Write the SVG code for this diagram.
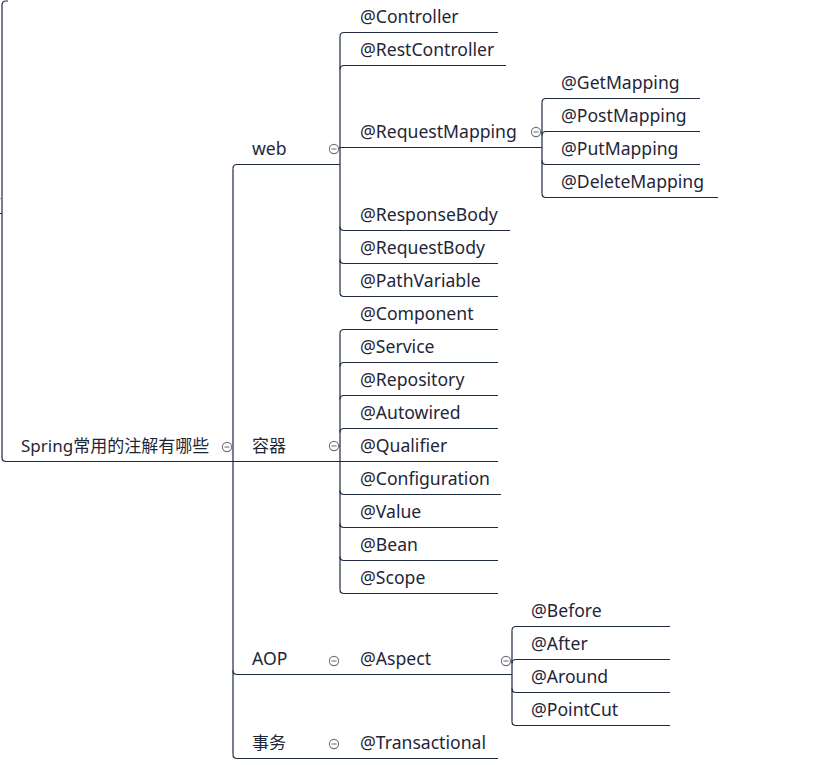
<svg xmlns="http://www.w3.org/2000/svg" width="817" height="765" viewBox="0 0 817 765">
<style>
.t{font-family:"Noto Sans","Noto Sans CJK SC",sans-serif;font-size:17.6px;fill:#1f2638}
.z{font-size:17px}
.u{stroke:#1f2a40;stroke-width:1.2;fill:none}
.c{fill:none;stroke:#1f2a40;stroke-width:1.2}
.b circle{fill:#fff;stroke:#6f7480;stroke-width:1.1}
.b line{stroke:#6f7480;stroke-width:1.1}
</style>
<defs>
<g id="btn" class="b"><circle cx="0" cy="0" r="4.6"/><line x1="-2.5" y1="0" x2="2.5" y2="0"/></g>
</defs>
<rect width="817" height="765" fill="#fff"/>
<g id="connectors">
<path class="c" d="M8,1 H6 Q2,1 2,5 V457.5 Q2,461.5 6,461.5"/>
<path class="c" d="M0,213.5 H2"/>
<path class="c" d="M0,198.5 H1.5" style="stroke:#9a9ea8"/>
<!-- root bracket -->
<path class="c" d="M233,168.5 V754.5"/>
<path class="c" d="M233,168.5 Q233,164.5 237,164.5"/>
<path class="c" d="M233,670.5 Q233,674.5 237,674.5"/>
<path class="c" d="M233,754.5 Q233,758.5 237,758.5"/>
<!-- web bracket -->
<path class="c" d="M338.5,148 H340 M340,36.5 V292.5"/>
<path class="c" d="M340,36.5 Q340,32.5 344,32.5"/>
<path class="c" d="M340,69.5 Q340,65.5 344,65.5"/>
<path class="c" d="M340,226.5 Q340,230.5 344,230.5"/>
<path class="c" d="M340,259.5 Q340,263.5 344,263.5"/>
<path class="c" d="M340,292.5 Q340,296.5 344,296.5"/>
<!-- RequestMapping bracket -->
<path class="c" d="M540.5,132 H542 M542,102.5 V193.5"/>
<path class="c" d="M542,102.5 Q542,98.5 546,98.5"/>
<path class="c" d="M542,135.5 Q542,131.5 546,131.5"/>
<path class="c" d="M542,160.5 Q542,164.5 546,164.5"/>
<path class="c" d="M542,193.5 Q542,197.5 546,197.5"/>
<!-- 容器 bracket -->
<path class="c" d="M338.5,446 H340 M340,333.5 V589.5"/>
<path class="c" d="M340,333.5 Q340,329.5 344,329.5"/>
<path class="c" d="M340,366.5 Q340,362.5 344,362.5"/>
<path class="c" d="M340,399.5 Q340,395.5 344,395.5"/>
<path class="c" d="M340,432.5 Q340,428.5 344,428.5"/>
<path class="c" d="M340,490.5 Q340,494.5 344,494.5"/>
<path class="c" d="M340,523.5 Q340,527.5 344,527.5"/>
<path class="c" d="M340,556.5 Q340,560.5 344,560.5"/>
<path class="c" d="M340,589.5 Q340,593.5 344,593.5"/>
<!-- Aspect bracket -->
<path class="c" d="M510.5,661 H512 M512,630.5 V721.5"/>
<path class="c" d="M512,630.5 Q512,626.5 516,626.5"/>
<path class="c" d="M512,663.5 Q512,659.5 516,659.5"/>
<path class="c" d="M512,688.5 Q512,692.5 516,692.5"/>
<path class="c" d="M512,721.5 Q512,725.5 516,725.5"/>
</g>
<g id="root"><line class="u" x1="6" y1="461.5" x2="233" y2="461.5"/><text class="t z" x="21" y="452">Spring常用的注解有哪些</text><use href="#btn" x="227" y="447"/></g>
<g id="web"><line class="u" x1="237" y1="164.5" x2="340" y2="164.5"/><text class="t" x="252" y="155">web</text><use href="#btn" x="334" y="149"/></g>
<g id="rongqi"><line class="u" x1="233" y1="461.5" x2="340" y2="461.5"/><text class="t z" x="252" y="452">容器</text><use href="#btn" x="334" y="446"/></g>
<g id="aop"><line class="u" x1="237" y1="674.5" x2="340" y2="674.5"/><text class="t" x="252" y="665">AOP</text><use href="#btn" x="334" y="661"/></g>
<g id="shiwu"><line class="u" x1="237" y1="758.5" x2="340" y2="758.5"/><text class="t z" x="252" y="749">事务</text><use href="#btn" x="334" y="744"/></g>
<g id="controller"><line class="u" x1="344" y1="32.5" x2="498" y2="32.5"/><text class="t" x="360" y="23">@Controller</text></g>
<g id="restcontroller"><line class="u" x1="344" y1="65.5" x2="506" y2="65.5"/><text class="t" x="360" y="56">@RestController</text></g>
<g id="requestmapping"><line class="u" x1="340" y1="147.5" x2="542" y2="147.5"/><text class="t" x="360" y="138">@RequestMapping</text><use href="#btn" x="536" y="132"/></g>
<g id="getmapping"><line class="u" x1="546" y1="98.5" x2="700" y2="98.5"/><text class="t" x="561" y="89">@GetMapping</text></g>
<g id="postmapping"><line class="u" x1="546" y1="131.5" x2="700" y2="131.5"/><text class="t" x="561" y="122">@PostMapping</text></g>
<g id="putmapping"><line class="u" x1="546" y1="164.5" x2="700" y2="164.5"/><text class="t" x="561" y="155">@PutMapping</text></g>
<g id="deletemapping"><line class="u" x1="546" y1="197.5" x2="718" y2="197.5"/><text class="t" x="561" y="188">@DeleteMapping</text></g>
<g id="responsebody"><line class="u" x1="344" y1="230.5" x2="510" y2="230.5"/><text class="t" x="360" y="221">@ResponseBody</text></g>
<g id="requestbody"><line class="u" x1="344" y1="263.5" x2="498" y2="263.5"/><text class="t" x="360" y="254">@RequestBody</text></g>
<g id="pathvariable"><line class="u" x1="344" y1="296.5" x2="498" y2="296.5"/><text class="t" x="360" y="287">@PathVariable</text></g>
<g id="component"><line class="u" x1="344" y1="329.5" x2="498" y2="329.5"/><text class="t" x="360" y="320">@Component</text></g>
<g id="service"><line class="u" x1="344" y1="362.5" x2="498" y2="362.5"/><text class="t" x="360" y="353">@Service</text></g>
<g id="repository"><line class="u" x1="344" y1="395.5" x2="498" y2="395.5"/><text class="t" x="360" y="386">@Repository</text></g>
<g id="autowired"><line class="u" x1="344" y1="428.5" x2="498" y2="428.5"/><text class="t" x="360" y="419">@Autowired</text></g>
<g id="qualifier"><line class="u" x1="340" y1="461.5" x2="498" y2="461.5"/><text class="t" x="360" y="452">@Qualifier</text></g>
<g id="configuration"><line class="u" x1="344" y1="494.5" x2="501" y2="494.5"/><text class="t" x="360" y="485">@Configuration</text></g>
<g id="value"><line class="u" x1="344" y1="527.5" x2="498" y2="527.5"/><text class="t" x="360" y="518">@Value</text></g>
<g id="bean"><line class="u" x1="344" y1="560.5" x2="498" y2="560.5"/><text class="t" x="360" y="551">@Bean</text></g>
<g id="scope"><line class="u" x1="344" y1="593.5" x2="498" y2="593.5"/><text class="t" x="360" y="584">@Scope</text></g>
<g id="aspect"><line class="u" x1="340" y1="674.5" x2="512" y2="674.5"/><text class="t" x="360" y="665">@Aspect</text><use href="#btn" x="506" y="661"/></g>
<g id="before"><line class="u" x1="516" y1="626.5" x2="670" y2="626.5"/><text class="t" x="531" y="617">@Before</text></g>
<g id="after"><line class="u" x1="516" y1="659.5" x2="670" y2="659.5"/><text class="t" x="531" y="650">@After</text></g>
<g id="around"><line class="u" x1="516" y1="692.5" x2="670" y2="692.5"/><text class="t" x="531" y="683">@Around</text></g>
<g id="pointcut"><line class="u" x1="516" y1="725.5" x2="670" y2="725.5"/><text class="t" x="531" y="716">@PointCut</text></g>
<g id="transactional"><line class="u" x1="340" y1="758.5" x2="498" y2="758.5"/><text class="t" x="360" y="749">@Transactional</text></g>
</svg>
